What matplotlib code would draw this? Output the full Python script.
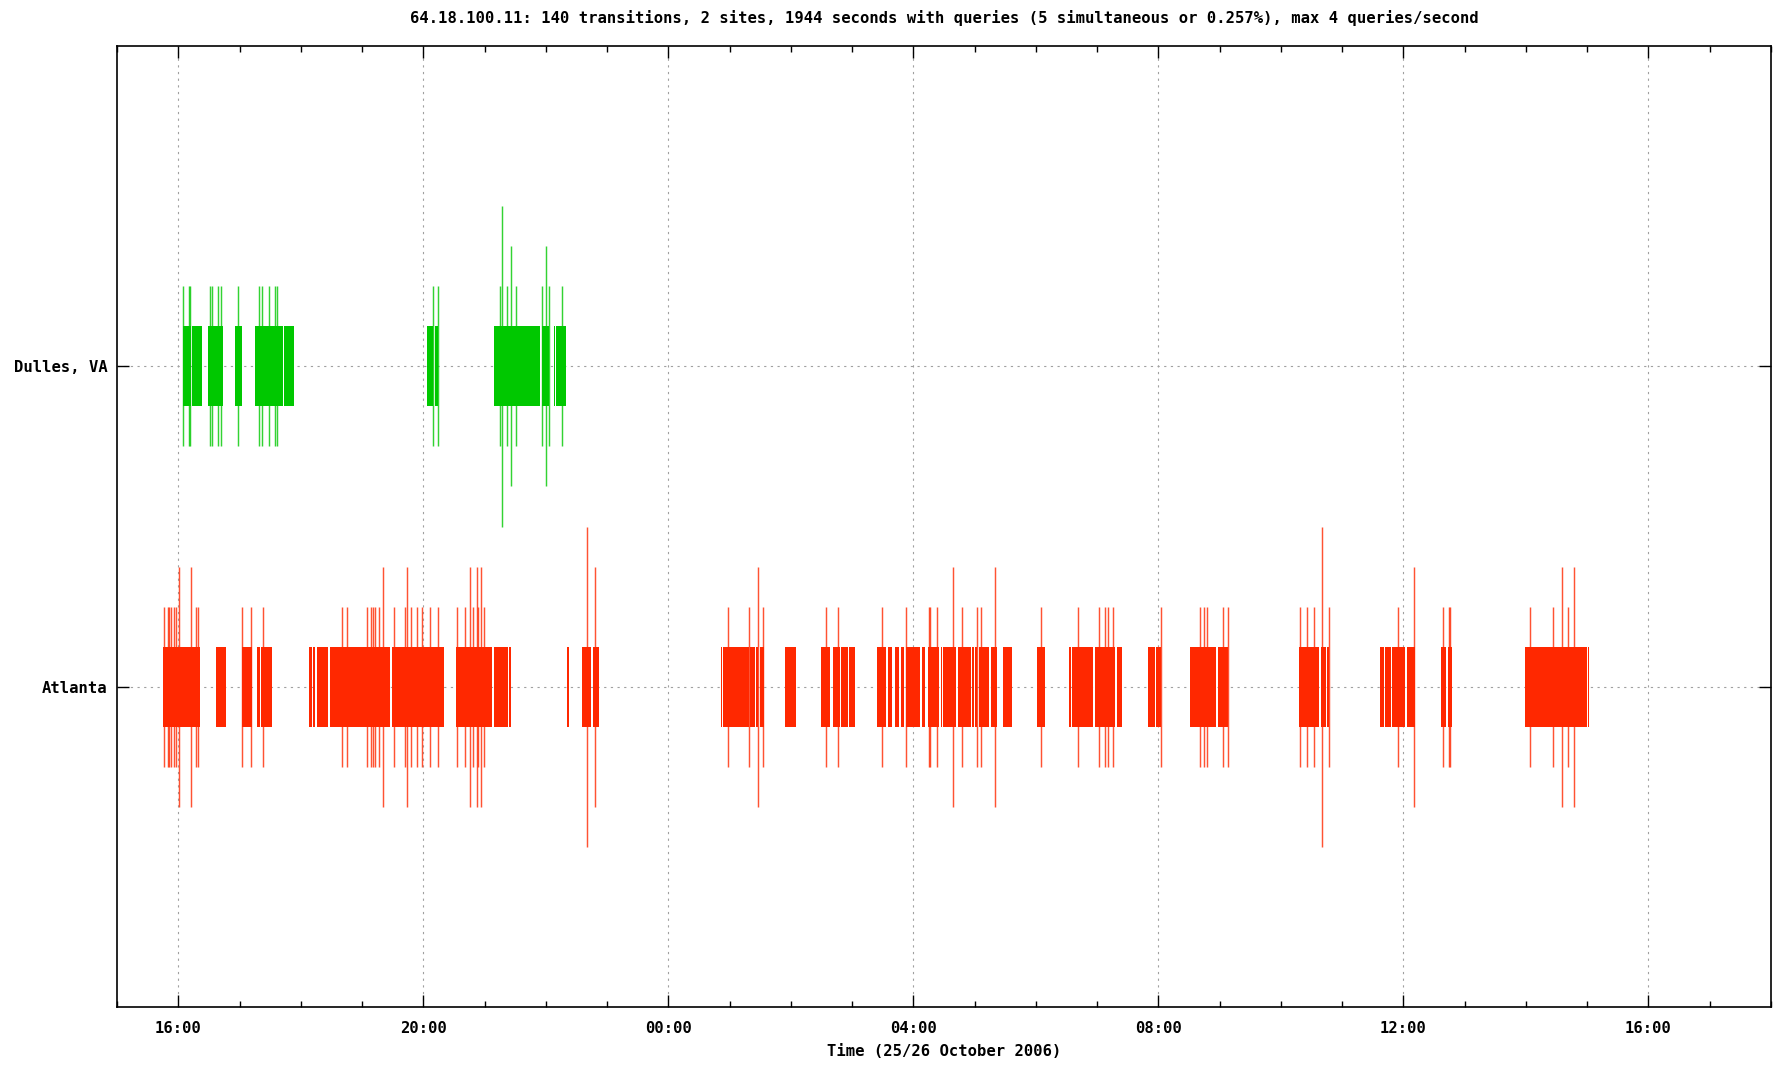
import datetime as dt

import matplotlib
matplotlib.use("Agg")
import matplotlib.pyplot as plt
import matplotlib.dates as mdates

# time axis starts at 15:00 on the 25th, all offsets below are minutes from there
T0 = dt.datetime(2006, 10, 25, 15, 0)
SPAN_HOURS = 27

TITLE = ("64.18.100.11: 140 transitions, 2 sites, 1944 seconds with queries "
         "(5 simultaneous or 0.257%), max 4 queries/second")
XLABEL = "Time (25/26 October 2006)"

SITES = ["Atlanta", "Dulles, VA"]

# stretches of seconds with one query: (start, end)
DULLES_RUNS = [
    (64.5, 72.0), (73.7, 82.8), (89.4, 103.4), (115.4, 122.0), (135.0, 162.1),
    (163.8, 172.9), (303.7, 309.6), (311.5, 314.5), (368.9, 414.6),
    (415.9, 423.4), (427.6, 429.3), (430.3, 439.4),
]

# seconds with more than one query: (time, queries)
DULLES_PEAKS = [
    (65.1, 2), (70.3, 2), (71.7, 2), (91.3, 2), (92.6, 2), (99.4, 2), (101.9, 2),
    (118.5, 2), (138.8, 2), (141.9, 2), (148.4, 2), (155.2, 2), (156.5, 2),
    (309.6, 2), (314.8, 2), (374.8, 2), (377.4, 4), (382.3, 2), (385.9, 3),
    (390.5, 2), (416.3, 2), (420.5, 3), (423.1, 2), (436.2, 2),
]

ATLANTA_RUNS = [
    (44.9, 81.1), (96.8, 106.3), (122.3, 132.4), (137.3, 139.9), (141.5, 151.6),
    (188.5, 190.8), (192.1, 194.1), (195.4, 206.4), (208.4, 267.8), (269.5, 320.4),
    (332.4, 367.3), (368.9, 383.0), (384.3, 385.9), (440.4, 443.0), (455.0, 464.5),
    (465.8, 471.7),
    (591.1, 592.5), (593.4, 618.9), (620.2, 624.4), (626.1, 628.0), (629.7, 633.6),
    (654.7, 665.2), (689.9, 698.8), (701.7, 708.3), (709.5, 715.8), (717.4, 722.6),
    (744.8, 753.6), (755.2, 759.2), (761.8, 766.0), (768.3, 770.6), (772.6, 786.6),
    (788.2, 791.8), (794.4, 805.2), (806.8, 808.1), (809.1, 821.8), (823.5, 836.2),
    (837.4, 839.1), (840.4, 842.6), (844.3, 854.1), (856.0, 862.2), (867.8, 876.9),
    (901.4, 902.7), (903.3, 909.2), (932.7, 934.1), (935.6, 956.2), (957.8, 977.1),
    (979.7, 984.0), (1010.0, 1016.3), (1017.8, 1022.4), (1050.5, 1076.0),
    (1077.9, 1088.0),
    (1157.8, 1177.1), (1178.8, 1183.7), (1184.9, 1187.2), (1237.1, 1240.7),
    (1242.4, 1247.6), (1248.8, 1262.0), (1263.2, 1271.8), (1297.2, 1302.1),
    (1303.4, 1307.6), (1379.4, 1439.4), (1440.4, 1442.1),
]

ATLANTA_PEAKS = [
    (45.8, 2), (49.5, 2), (50.8, 2), (53.2, 2), (55.6, 2), (57.7, 2), (61.0, 3),
    (72.2, 3), (76.9, 2), (79.6, 2), (122.9, 2), (130.8, 2), (143.3, 2),
    (220.8, 2), (225.7, 2), (245.3, 2), (249.2, 2), (250.5, 2), (253.1, 2),
    (257.0, 2), (260.9, 3), (271.7, 2), (282.2, 2), (284.4, 3), (288.4, 2),
    (293.5, 2), (299.1, 2), (306.9, 2), (314.5, 2),
    (333.1, 2), (340.5, 2), (346.1, 3), (348.7, 2), (352.3, 3), (353.6, 2),
    (356.6, 3), (359.5, 2), (460.6, 4), (468.3, 3),
    (598.0, 2), (618.9, 2), (627.7, 3), (632.9, 2), (694.5, 2), (706.0, 2),
    (749.3, 2), (773.0, 2), (795.4, 2), (796.7, 2), (803.2, 2), (818.6, 3),
    (827.7, 2), (842.1, 2), (846.0, 2), (860.3, 3),
    (905.0, 2), (941.2, 2), (962.1, 2), (967.6, 2), (970.8, 2), (975.2, 2),
    (1022.1, 2), (1061.0, 2), (1064.6, 2), (1067.8, 2), (1083.4, 2), (1087.7, 2),
    (1158.2, 2), (1165.4, 2), (1172.4, 2), (1180.6, 4), (1186.9, 2),
    (1254.4, 2), (1270.4, 3), (1299.2, 2), (1304.3, 2), (1305.6, 2),
    (1384.3, 2), (1406.1, 2), (1415.2, 3), (1420.8, 2), (1426.9, 3),
]

FONT = dict(family="DejaVu Sans Mono", weight="bold", size=11.2)


def to_num(minutes):
    """minutes after T0 -> matplotlib date number"""
    return mdates.date2num(T0 + dt.timedelta(minutes=minutes))


def draw_site(ax, y, runs, peaks, color):
    """one query per second as a band, extra queries as taller spikes"""
    bars = [(to_num(a), to_num(b) - to_num(a)) for a, b in runs]
    ax.broken_barh(bars, (y - 0.125, 0.25), facecolors=color, linewidth=0)
    xs = [to_num(t) for t, n in peaks]
    ax.vlines(xs, [y - n * 0.125 for t, n in peaks], [y + n * 0.125 for t, n in peaks],
              colors=color, linewidth=1.05, alpha=0.8)


def main():
    fig = plt.figure(figsize=(17.75, 10.7), dpi=100)
    ax = fig.add_axes([117 / 1775, 63 / 1070, 1654 / 1775, 961 / 1070])

    draw_site(ax, 2, DULLES_RUNS, DULLES_PEAKS, "#00c800")
    draw_site(ax, 1, ATLANTA_RUNS, ATLANTA_PEAKS, "#ff2800")

    ax.set_xlim(to_num(0), to_num(SPAN_HOURS * 60))
    ax.set_ylim(0, 3)
    ax.set_yticks([1, 2])
    ax.set_yticklabels(SITES)

    ax.xaxis.set_major_locator(mdates.HourLocator(byhour=[0, 4, 8, 12, 16, 20]))
    ax.xaxis.set_minor_locator(mdates.HourLocator())
    ax.xaxis.set_major_formatter(mdates.DateFormatter("%H:%M"))

    ax.set_axisbelow(True)
    ax.grid(True, which="major", color="#a0a0a0", linestyle=(0, (2, 4)), linewidth=0.8)

    ax.tick_params(which="both", direction="in", top=True, right=True, width=1.0)
    ax.tick_params(which="major", length=8.5)
    ax.tick_params(which="minor", length=4.3)
    ax.tick_params(axis="x", pad=10)
    ax.tick_params(axis="y", pad=7)
    for lab in ax.get_xticklabels() + ax.get_yticklabels():
        lab.set_fontproperties(matplotlib.font_manager.FontProperties(**FONT))
    for sp in ax.spines.values():
        sp.set_linewidth(1.2)

    fig.text((117 + 1771) / 2 / 1775, 1 - 18 / 1070, TITLE, ha="center", va="center", **FONT)
    fig.text((117 + 1771) / 2 / 1775, 1 - 1052 / 1070, XLABEL, ha="center", va="center", **FONT)

    fig.savefig("out.png", dpi=100)


if __name__ == "__main__":
    main()
